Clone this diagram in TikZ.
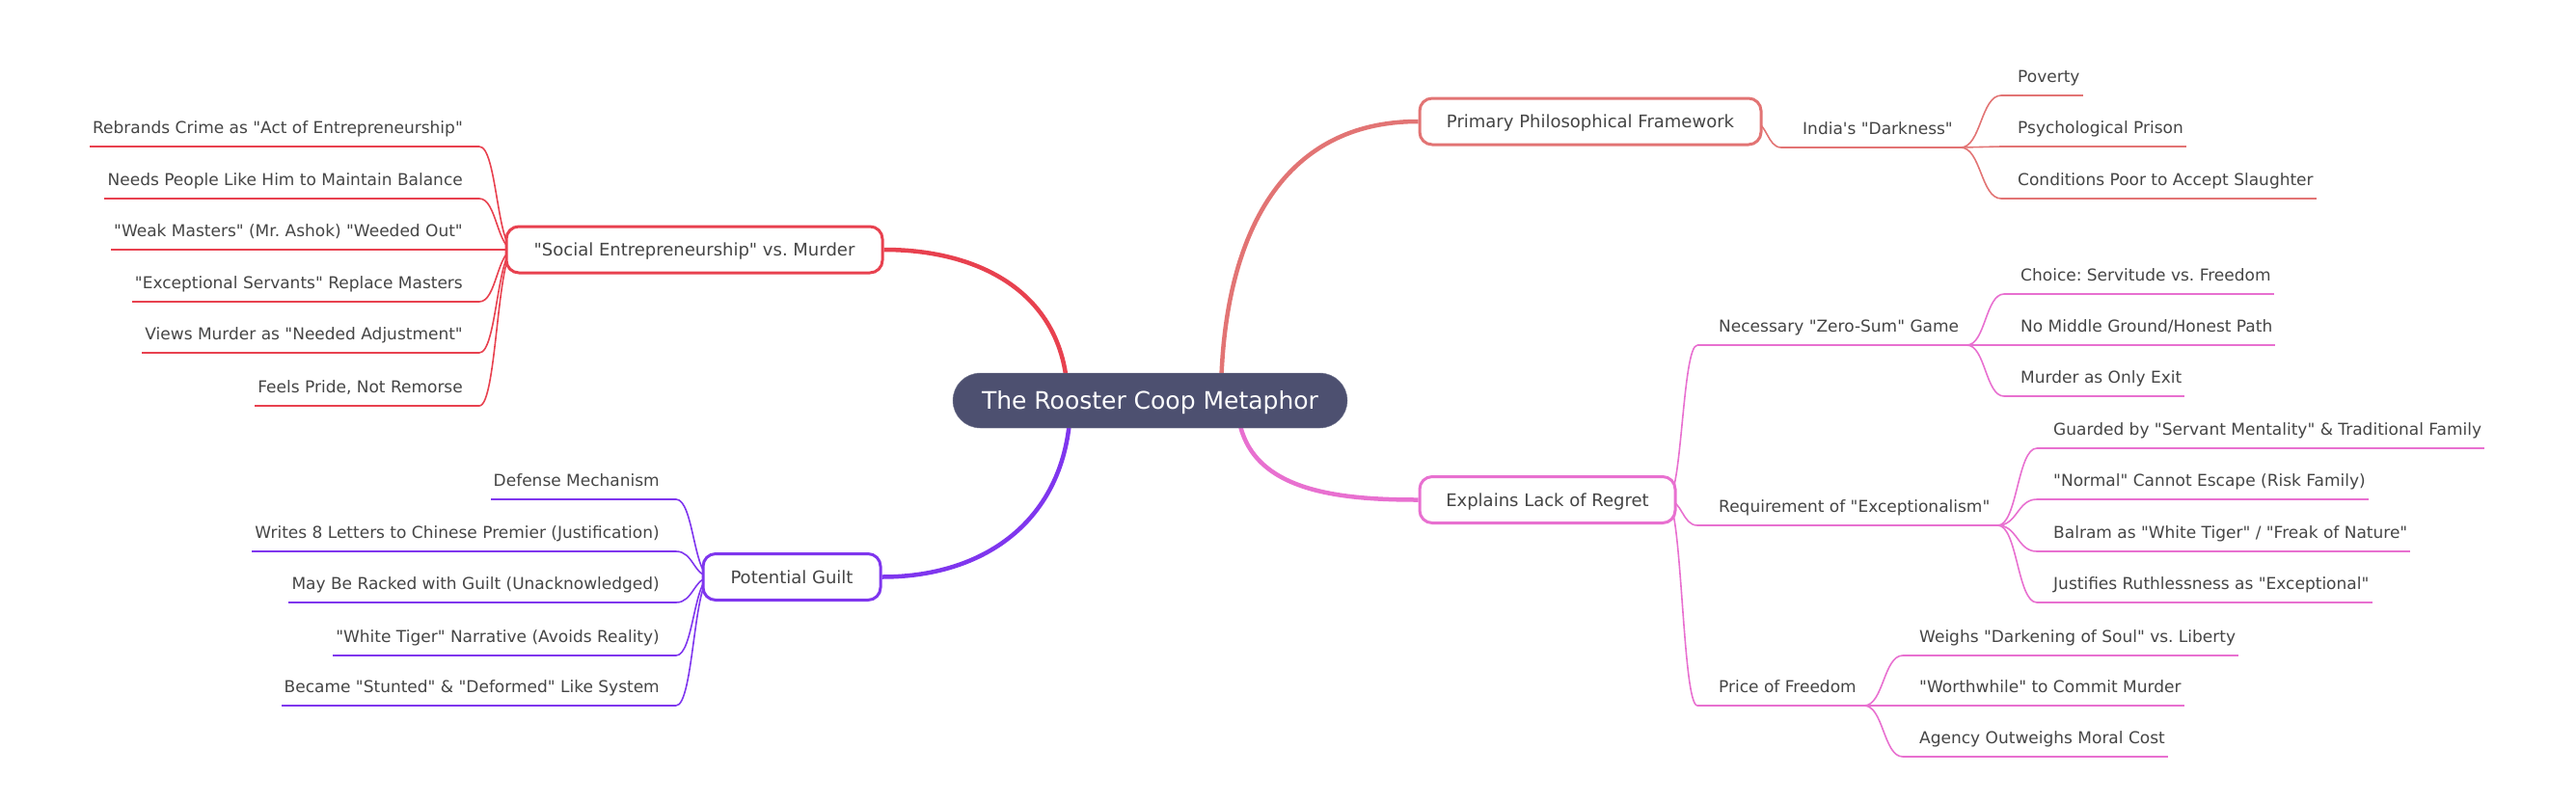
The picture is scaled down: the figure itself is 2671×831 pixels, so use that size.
\documentclass[tikz,border=0pt]{standalone}
\usepackage{fontspec}
\setmainfont{DejaVu Sans}[Ligatures=TeXOff]
\usepackage{tikz}
\usetikzlibrary{calc,backgrounds}
\definecolor{rootbg}{HTML}{4D5070}
\definecolor{inkgray}{HTML}{454545}
\definecolor{cframe}{HTML}{E27474}
\definecolor{csocial}{HTML}{E8414F}
\definecolor{cguilt}{HTML}{7F36EE}
\definecolor{cregret}{HTML}{E870D0}
\frenchspacing
% curve to a child on the right / on the left, then its underline
\newcommand{\twigR}[3]{%
  \draw[twig,#1] let \p1=(#2), \p2=([xshift=-14pt]#3.south west) in
    (\p1) .. controls ({(\x1+\x2)/2},\y1) and ({(\x1+\x2)/2},\y2) .. (\p2);
  \draw[rule,#1] ([xshift=-14pt]#3.south west) -- (#3.south east);}
\newcommand{\twigL}[3]{%
  \draw[twig,#1] let \p1=(#2), \p2=([xshift=14pt]#3.south east) in
    (\p1) .. controls ({(\x1+\x2)/2},\y1) and ({(\x1+\x2)/2},\y2) .. (\p2);
  \draw[rule,#1] ([xshift=14pt]#3.south east) -- (#3.south west);}

\begin{document}
\begin{tikzpicture}[x=1pt,y=-1pt,
  root/.style={rounded corners=28.5pt,fill=rootbg,draw=rootbg!75!white,text=white,
               font=\fontsize{25pt}{30pt}\selectfont,minimum width=409pt,
               minimum height=57pt,inner sep=0pt,text height=18pt,text depth=0pt},
  topic/.style={draw,line width=3pt,fill=white,rounded corners=13pt,minimum height=48pt,
                inner sep=0pt,text height=13pt,text depth=0pt,text=inkgray,
                font=\fontsize{18pt}{21pt}\selectfont},
  leaf/.style={inner xsep=3pt,inner ysep=9pt,text height=12.5pt,text depth=4.5pt,
               text=inkgray,font=\fontsize{17pt}{20pt}\selectfont},
  sub/.style={leaf,inner xsep=8pt},
  trunk/.style={line width=4.5pt},
  twig/.style={line width=1.6pt},
  rule/.style={line width=2.4pt}]
\useasboundingbox (0,0) rectangle (2671,831);

\node[root] (root) at (1192.5,415.5) {The Rooster Coop Metaphor};
\node[topic,draw=cframe,minimum width=354pt] (frame) at (1649,126) {Primary Philosophical Framework};
\node[topic,draw=csocial,minimum width=390pt] (social) at (720,259) {"Social Entrepreneurship" vs. Murder};
\node[topic,draw=cguilt,minimum width=184pt] (guilt) at (821,598.5) {Potential Guilt};
\node[topic,draw=cregret,minimum width=265pt] (regret) at (1604.5,518.5) {Explains Lack of Regret};

% framework
\node[sub,anchor=south west] (dark) at (1861,153) {India's "Darkness"};
\node[leaf,anchor=south west] (pov) at (2089,99) {Poverty};
\node[leaf,anchor=south west] (prison) at (2089,152) {Psychological Prison};
\node[leaf,anchor=south west] (slaughter) at (2089,206) {Conditions Poor to Accept Slaughter};

% lack of regret
\node[sub,anchor=south west] (zero) at (1774,358) {Necessary "Zero-Sum" Game};
\node[sub,anchor=south west] (except) at (1774,545) {Requirement of "Exceptionalism"};
\node[sub,anchor=south west] (price) at (1774,732) {Price of Freedom};
\node[leaf,anchor=south west] (choice) at (2092,305) {Choice: Servitude vs. Freedom};
\node[leaf,anchor=south west] (middle) at (2092,358) {No Middle Ground/Honest Path};
\node[leaf,anchor=south west] (exit) at (2092,411) {Murder as Only Exit};
\node[leaf,anchor=south west] (guarded) at (2126,465) {Guarded by "Servant Mentality" \& Traditional Family};
\node[leaf,anchor=south west] (normal) at (2126,518) {"Normal" Cannot Escape (Risk Family)};
\node[leaf,anchor=south west] (tiger) at (2126,572) {Balram as "White Tiger" / "Freak of Nature"};
\node[leaf,anchor=south west] (ruth) at (2126,625) {Justifies Ruthlessness as "Exceptional"};
\node[leaf,anchor=south west] (soul) at (1987,680) {Weighs "Darkening of Soul" vs. Liberty};
\node[leaf,anchor=south west] (worth) at (1987,732) {"Worthwhile" to Commit Murder};
\node[leaf,anchor=south west] (agency) at (1987,785) {Agency Outweighs Moral Cost};

% social entrepreneurship
\node[leaf,anchor=south east] (rebrand) at (483,152) {Rebrands Crime as "Act of Entrepreneurship"};
\node[leaf,anchor=south east] (balance) at (483,206) {Needs People Like Him to Maintain Balance};
\node[leaf,anchor=south east] (weak) at (483,259) {"Weak Masters" (Mr. Ashok) "Weeded Out"};
\node[leaf,anchor=south east] (servants) at (483,313) {"Exceptional Servants" Replace Masters};
\node[leaf,anchor=south east] (adjust) at (483,366) {Views Murder as "Needed Adjustment"};
\node[leaf,anchor=south east] (pride) at (483,421) {Feels Pride, Not Remorse};

% guilt
\node[leaf,anchor=south east] (defense) at (687,518) {Defense Mechanism};
\node[leaf,anchor=south east] (letters) at (687,572) {Writes 8 Letters to Chinese Premier (Justification)};
\node[leaf,anchor=south east] (racked) at (687,625) {May Be Racked with Guilt (Unacknowledged)};
\node[leaf,anchor=south east] (narr) at (687,680) {"White Tiger" Narrative (Avoids Reality)};
\node[leaf,anchor=south east] (stunted) at (687,732) {Became "Stunted" \& "Deformed" Like System};

\begin{scope}[on background layer]
\draw[trunk,cframe] ([xshift=73.5pt]root.center) to[out=90,in=180,looseness=1.1] (frame.west);
\draw[trunk,csocial] ([xshift=-85.5pt]root.center) to[out=90,in=0,looseness=1.1] (social.east);
\draw[trunk,cguilt] ([xshift=-82.5pt]root.center) to[out=-90,in=0,looseness=1.1] (guilt.east);
\draw[trunk,cregret] ([xshift=90.5pt]root.center) to[out=-90,in=180,looseness=1.1] (regret.west);

\twigR{cframe}{[xshift=-10pt]frame.east}{dark}
\twigR{cframe}{dark.south east}{pov}
\twigR{cframe}{dark.south east}{prison}
\twigR{cframe}{dark.south east}{slaughter}

\twigR{cregret}{[xshift=-10pt]regret.east}{zero}
\twigR{cregret}{[xshift=-10pt]regret.east}{except}
\twigR{cregret}{[xshift=-10pt]regret.east}{price}
\twigR{cregret}{zero.south east}{choice}
\twigR{cregret}{zero.south east}{middle}
\twigR{cregret}{zero.south east}{exit}
\twigR{cregret}{except.south east}{guarded}
\twigR{cregret}{except.south east}{normal}
\twigR{cregret}{except.south east}{tiger}
\twigR{cregret}{except.south east}{ruth}
\twigR{cregret}{price.south east}{soul}
\twigR{cregret}{price.south east}{worth}
\twigR{cregret}{price.south east}{agency}

\twigL{csocial}{[xshift=10pt]social.west}{rebrand}
\twigL{csocial}{[xshift=10pt]social.west}{balance}
\twigL{csocial}{[xshift=10pt]social.west}{weak}
\twigL{csocial}{[xshift=10pt]social.west}{servants}
\twigL{csocial}{[xshift=10pt]social.west}{adjust}
\twigL{csocial}{[xshift=10pt]social.west}{pride}

\twigL{cguilt}{[xshift=10pt]guilt.west}{defense}
\twigL{cguilt}{[xshift=10pt]guilt.west}{letters}
\twigL{cguilt}{[xshift=10pt]guilt.west}{racked}
\twigL{cguilt}{[xshift=10pt]guilt.west}{narr}
\twigL{cguilt}{[xshift=10pt]guilt.west}{stunted}
\end{scope}
\end{tikzpicture}
\end{document}
